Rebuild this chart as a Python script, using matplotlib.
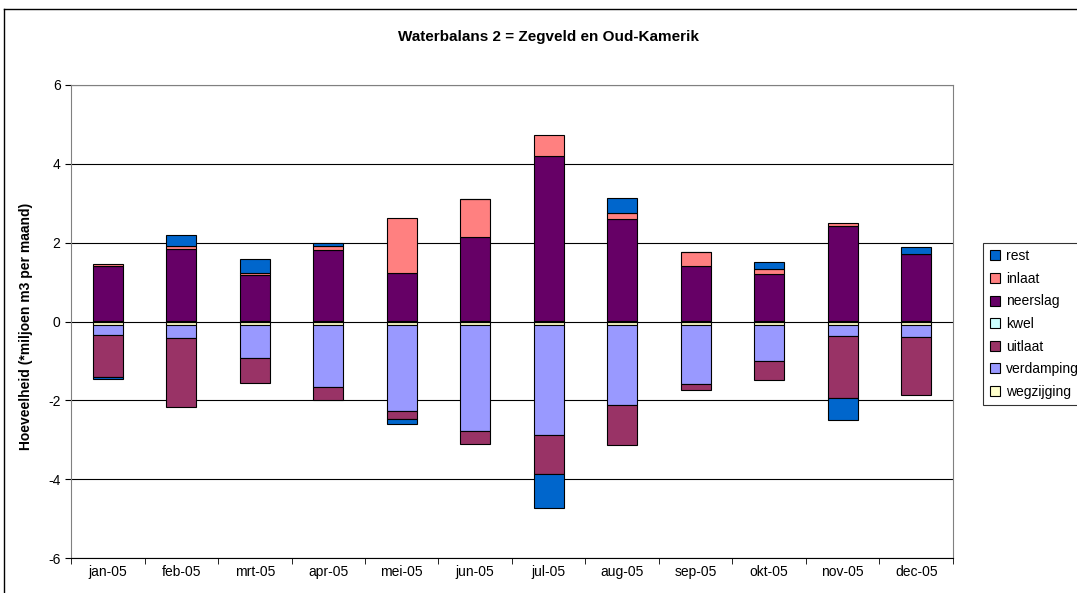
import numpy as np
import matplotlib
matplotlib.use('Agg')
import matplotlib.pyplot as plt
from matplotlib.lines import Line2D

plt.rcParams['font.family'] = ['Liberation Sans', 'DejaVu Sans']
plt.rcParams['axes.unicode_minus'] = False

months = ['jan-05', 'feb-05', 'mrt-05', 'apr-05', 'mei-05', 'jun-05',
          'jul-05', 'aug-05', 'sep-05', 'okt-05', 'nov-05', 'dec-05']

wegzijging = [-0.08, -0.08, -0.08, -0.08, -0.08, -0.08, -0.08, -0.08, -0.08, -0.08, -0.08, -0.08]
verdamping = [-0.27, -0.35, -0.84, -1.59, -2.20, -2.71, -2.79, -2.04, -1.51, -0.91, -0.30, -0.32]
uitlaat = [-1.05, -1.75, -0.64, -0.32, -0.20, -0.32, -1.00, -1.01, -0.16, -0.50, -1.56, -1.47]
kwel = [0.01, 0.01, 0.01, 0.01, 0.01, 0.01, 0.01, 0.01, 0.01, 0.01, 0.01, 0.01]
neerslag = [1.40, 1.84, 1.18, 1.80, 1.23, 2.13, 4.20, 2.58, 1.41, 1.19, 2.42, 1.69]
inlaat = [0.06, 0.07, 0.04, 0.11, 1.38, 0.98, 0.52, 0.15, 0.34, 0.14, 0.08, 0.02]
rest = [-0.05, 0.27, 0.35, 0.06, -0.12, 0.00, -0.86, 0.40, 0.00, 0.17, -0.56, 0.16]

series = [
    ('wegzijging', wegzijging, '#FFFFCC'),
    ('verdamping', verdamping, '#9999FF'),
    ('uitlaat', uitlaat, '#993366'),
    ('kwel', kwel, '#CCFFFF'),
    ('neerslag', neerslag, '#660066'),
    ('inlaat', inlaat, '#FF8080'),
    ('rest', rest, '#0066CC'),
]

fig = plt.figure(figsize=(10.77, 5.93), dpi=100)
ax = fig.add_axes([71 / 1077, 1 - 558 / 593, (953 - 71) / 1077, (558 - 85) / 593])

x = np.arange(len(months))
pos_bottom = np.zeros(len(months))
neg_bottom = np.zeros(len(months))
handles = {}
for name, vals, color in series:
    vals = np.array(vals)
    bottom = np.where(vals >= 0, pos_bottom, neg_bottom)
    ax.bar(x, vals, width=0.41, bottom=bottom, color=color,
           edgecolor='black', linewidth=0.8, zorder=3)
    pos_bottom += np.where(vals >= 0, vals, 0)
    neg_bottom += np.where(vals < 0, vals, 0)
    handles[name] = Line2D([], [], marker='s', linestyle='none', markersize=6.5,
                           markerfacecolor=color, markeredgecolor='black',
                           markeredgewidth=0.8)

ax.set_xlim(-0.5, len(months) - 0.5)
ax.set_ylim(-6, 6)
ax.set_yticks(np.arange(-6, 7, 2))
ax.yaxis.grid(True, color='black', linewidth=0.8, zorder=0)
ax.set_xticks(x)
ax.set_xticklabels(months, fontsize=10)
ax.set_xticks(np.arange(-0.5, len(months), 1), minor=True)
ax.tick_params(axis='x', which='major', length=0, pad=5)
ax.tick_params(axis='x', which='minor', length=4, direction='out', color='black')
ax.tick_params(axis='y', labelsize=10, length=4, direction='out')
for s in ['top', 'right', 'left']:
    ax.spines[s].set_color('#808080')
ax.spines['bottom'].set_color('black')

ax.set_ylabel('Hoeveelheid (*miljoen m3 per maand)', fontsize=10, fontweight='bold')
ax.yaxis.set_label_coords((33 - 71) / 882, 0.49)
fig.text(549 / 1077, 1 - 37 / 593, 'Waterbalans 2 = Zegveld en Oud-Kamerik',
         ha='center', va='center', fontsize=11, fontweight='bold')

order = ['rest', 'inlaat', 'neerslag', 'kwel', 'uitlaat', 'verdamping', 'wegzijging']
leg = fig.legend([handles[n] for n in order], order, loc='upper left',
                 bbox_to_anchor=(983 / 1077, 1 - 243 / 593), fontsize=10,
                 frameon=True, fancybox=False, edgecolor='black',
                 handlelength=0.8, handletextpad=0.4, labelspacing=0.62,
                 borderpad=0.45, borderaxespad=0)
leg.get_frame().set_linewidth(0.8)

# kader van de grafiek
fig.add_artist(Line2D([4 / 1077, 1], [1 - 9 / 593, 1 - 9 / 593], color='black', linewidth=1))
fig.add_artist(Line2D([4 / 1077, 4 / 1077], [0, 1 - 9 / 593], color='black', linewidth=1))

fig.savefig('out.png', dpi=100)
